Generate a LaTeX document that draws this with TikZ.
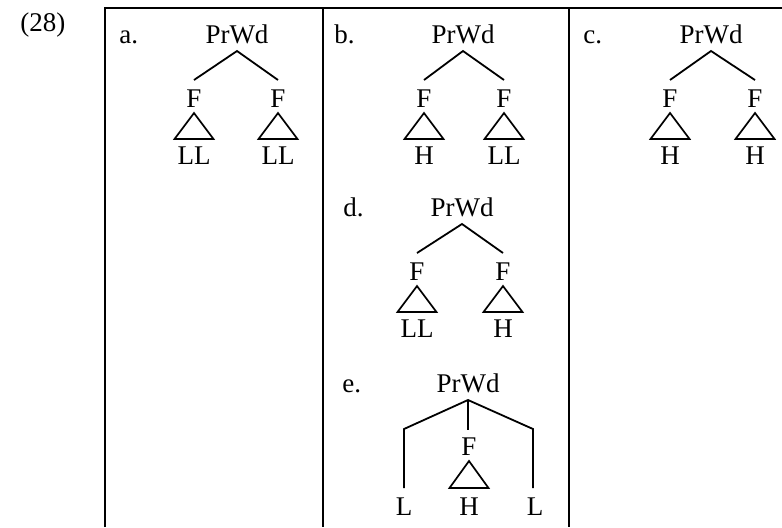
\documentclass[tikz,border=0pt]{standalone}
\usepackage{fontspec}
\setmainfont{Liberation Serif}
\tikzset{
  lbl/.style={anchor=base, inner sep=0pt, font=\fontsize{13.5}{16}\selectfont},
  tag/.style={lbl, anchor=base west},
  branch/.style={line width=0.9pt},
  tri/.style={line width=0.85pt, line join=miter},
  frame/.style={line width=1pt}
}
% #1 name, #2 apex x, #3 PrWd baseline, #4 left x, #5 right x, #6 left label, #7 right label
\newcommand\bintree[7]{%
  \node[lbl] (#1) at (#2,#3) {PrWd};
  \coordinate (#1-top) at (#2,#3+8);
  \coordinate (#1-l) at (#4,#3+37);
  \coordinate (#1-r) at (#5,#3+37);
  \draw[branch] (#1-l) -- (#1-top) -- (#1-r);
  \node[lbl] (#1-f1) at (#4,#3+64) {F};
  \node[lbl] (#1-f2) at (#5,#3+64) {F};
  \coordinate (#1-t1) at (#4,#3+70);
  \coordinate (#1-t2) at (#5,#3+70);
  \draw[tri] (#1-t1) -- ++(-19.5,26) -- ++(39,0) -- cycle;
  \draw[tri] (#1-t2) -- ++(-19.5,26) -- ++(39,0) -- cycle;
  \node[lbl] (#1-s1) at (#4,#3+121) {#6};
  \node[lbl] (#1-s2) at (#5,#3+121) {#7};
}
\begin{document}
\begin{tikzpicture}[x=0.5pt,y=-0.5pt]
\useasboundingbox (0,0) rectangle (782,527);
% frame
\draw[frame] (105,527) -- (105,8) -- (782,8);
\draw[frame] (323,8) -- (323,527);
\draw[frame] (569,8) -- (569,527);
% example number
\node[tag] (num) at (20,31) {(28)};
% labels
\node[tag] (la) at (119,43) {a.};
\node[tag] (lb) at (334,43) {b.};
\node[tag] (lc) at (583,43) {c.};
\node[tag] (ld) at (343,216) {d.};
\node[tag] (le) at (342,392) {e.};
% trees a-d
\bintree{ta}{237}{43}{194}{278}{LL}{LL}
\bintree{tb}{463}{43}{424}{504}{H}{LL}
\bintree{tc}{711}{43}{670}{755}{H}{H}
\bintree{td}{462}{216}{417}{503}{LL}{H}
% tree e
\node[lbl] (te) at (468,392) {PrWd};
\coordinate (te-top) at (468,400);
\coordinate (te-lc) at (404,429);
\coordinate (te-rc) at (533,429);
\coordinate (te-ll) at (404,488);
\coordinate (te-rl) at (533,488);
\coordinate (te-m) at (468,430);
\draw[branch] (te-ll) -- (te-lc) -- (te-top) -- (te-rc) -- (te-rl);
\draw[branch] (te-top) -- (te-m);
\node[lbl] (te-f) at (469,455) {F};
\coordinate (te-t) at (469,461);
\draw[tri] (te-t) -- ++(-19.5,27) -- ++(39,0) -- cycle;
\node[lbl] (te-s1) at (404,515) {L};
\node[lbl] (te-s2) at (469,515) {H};
\node[lbl] (te-s3) at (535,515) {L};
\end{tikzpicture}
\end{document}
